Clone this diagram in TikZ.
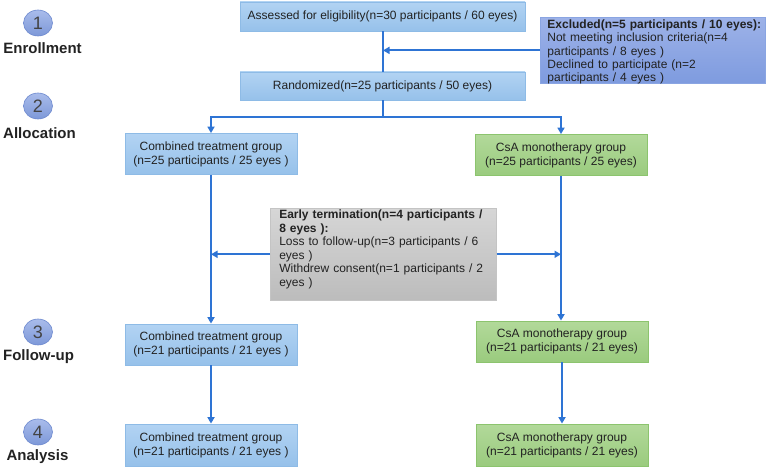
\documentclass[tikz,border=0pt]{standalone}
\usepackage{fontspec}
\setmainfont{Liberation Sans}
\usetikzlibrary{arrows.meta,shapes.geometric}
\definecolor{arrc}{HTML}{2E74D4}
\definecolor{txt}{HTML}{222222}
\definecolor{bluetop}{HTML}{B2D3F3}
\definecolor{bluebot}{HTML}{96C1EA}
\definecolor{blueedge}{HTML}{8EBBE6}
\definecolor{greentop}{HTML}{B2D99A}
\definecolor{greenbot}{HTML}{9ACB7E}
\definecolor{greenedge}{HTML}{8CC46E}
\definecolor{graytop}{HTML}{D6D6D6}
\definecolor{graybot}{HTML}{BCBCBC}
\definecolor{grayedge}{HTML}{C4C4C4}
\definecolor{excltop}{HTML}{9DB2E8}
\definecolor{exclbot}{HTML}{7E9BDF}
\definecolor{excledge}{HTML}{8AA5E2}
\definecolor{circtop}{HTML}{A9BCEB}
\definecolor{circbot}{HTML}{7D98D8}
\definecolor{circedge}{HTML}{6E8ACF}
\begin{document}
\begin{tikzpicture}[x=1pt,y=-1pt,
  boxfont/.style={font=\fontsize{12}{14}\selectfont},
  bluebox/.style={draw=blueedge, line width=0.8pt, top color=bluetop, bottom color=bluebot, align=center, inner sep=0pt, text=txt, boxfont},
  greenbox/.style={draw=greenedge, line width=0.8pt, top color=greentop, bottom color=greenbot, align=center, inner sep=0pt, text=txt, boxfont},
  groupbox/.style={minimum width=172pt, minimum height=41pt},
  circ/.style={ellipse, draw=circedge, line width=0.6pt, top color=circtop, bottom color=circbot, minimum width=29pt, minimum height=26pt, inner sep=0pt, font=\fontsize{18}{18}\selectfont, text=txt!85!white},
  stage/.style={font=\fontsize{15}{18}\selectfont\bfseries, text=txt, inner sep=0pt},
  conn/.style={draw=arrc, line width=2pt},
  arrw/.style={conn, -{Triangle[width=7pt,length=6.5pt]}}
]
\useasboundingbox (0,0) rectangle (767,468);

% stage markers
\node[circ] (n1) at (38,23) {1};
\node[stage] (l1) at (42.5,48) {Enrollment};
\node[circ] (n2) at (38,106) {2};
\node[stage] (l2) at (39.5,133) {Allocation};
\node[circ] (n3) at (38,332) {3};
\node[stage] (l3) at (38.5,357) {Follow-up};
\node[circ] (n4) at (38,432) {4};
\node[stage] (l4) at (37.5,457) {Analysis};

% enrollment
\node[bluebox, minimum width=285pt, minimum height=29pt] (assess) at (382.5,16.5) {Assessed for eligibility(n=30 participants / 60 eyes)};
\node[bluebox, minimum width=285pt, minimum height=28pt] (rand) at (382.5,86) {Randomized(n=25 participants / 50 eyes)};
\node[draw=excledge, line width=0.8pt, top color=excltop, bottom color=exclbot, text=txt,
      anchor=north west, text width=211pt, align=left, inner xsep=7pt, inner ysep=1pt,
      text height=10.3pt, text depth=53.7pt, font=\fontsize{12}{13.2}\selectfont] (excl) at (540,17)
  {\mbox{\textbf{Excluded(n=5 participants / 10 eyes):}}\\
   \mbox{Not meeting inclusion criteria(n=4}\\
   \mbox{participants / 8 eyes )}\\
   \mbox{Declined to participate (n=2}\\
   \mbox{participants / 4 eyes )}};

% allocation
\node[bluebox, groupbox] (c25) at (211,154) {Combined treatment group\\(n=25 participants / 25 eyes )};
\node[greenbox, groupbox] (s25) at (561,155) {CsA monotherapy group\\(n=25 participants / 25 eyes)};

% early termination
\node[draw=grayedge, line width=0.6pt, top color=graytop, bottom color=graybot, text=txt,
      anchor=north west, text width=208pt, align=left, inner xsep=9pt, inner ysep=1pt,
      text height=9.5pt, text depth=80.5pt, font=\fontsize{12}{13.5}\selectfont] (early) at (270,208)
  {\mbox{\textbf{Early termination(n=4 participants /}}\\
   \mbox{\textbf{8 eyes ):}}\\
   \mbox{Loss to follow-up(n=3 participants / 6}\\
   \mbox{eyes )}\\
   \mbox{Withdrew consent(n=1 participants / 2}\\
   \mbox{eyes )}};

% follow-up
\node[bluebox, groupbox] (c21) at (211,344.5) {Combined treatment group\\(n=21 participants / 21 eyes )};
\node[greenbox, groupbox] (s21) at (562,341.5) {CsA monotherapy group\\(n=21 participants / 21 eyes)};

% analysis
\node[bluebox, groupbox, minimum height=42pt] (c21a) at (211,445) {Combined treatment group\\(n=21 participants / 21 eyes )};
\node[greenbox, groupbox, minimum height=42pt] (s21a) at (562,445) {CsA monotherapy group\\(n=21 participants / 21 eyes)};

% connectors
\coordinate (br) at (383,117);
\draw[conn] (assess.south -| br) -- (rand.north -| br);
\draw[arrw] (excl.west) -- (excl.west -| br);
\draw[conn] (rand.south -| br) -- (br);
\draw[arrw] (br) -| (c25.north);
\draw[arrw] (br) -| (s25.north);
\draw[arrw] (c25.south) -- (c21.north -| c25.south);
\draw[arrw] (s25.south) -- (s21.north -| s25.south);
\draw[arrw] (early.west) -- (early.west -| c25.south);
\draw[arrw] (early.east) -- (early.east -| s25.south);
\draw[arrw] (c21.south) -- (c21a.north);
\draw[arrw] (s21.south) -- (s21a.north);
\end{tikzpicture}
\end{document}
